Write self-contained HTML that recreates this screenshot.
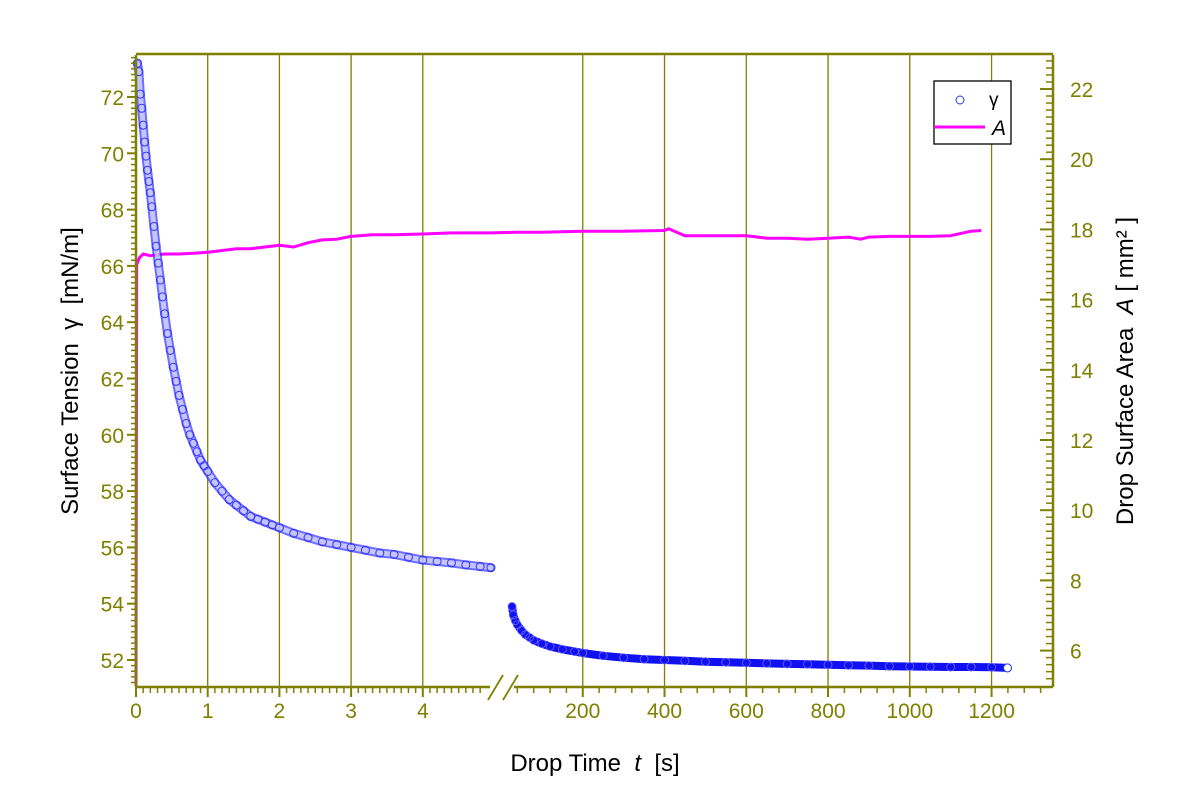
<!DOCTYPE html>
<html><head><meta charset="utf-8">
<style>
html,body{margin:0;padding:0;background:#fff;}
svg{display:block;font-family:"Liberation Sans",Arial,sans-serif;}
</style></head>
<body>
<svg id="chart" width="1200" height="800" viewBox="0 0 1200 800" xmlns="http://www.w3.org/2000/svg">
  <rect x="0" y="0" width="1200" height="800" fill="#fff"/>
  <g id="grid"></g>
  <g id="series"></g>
  <g id="axes"></g>
  <text transform="translate(78,371) rotate(-90)" text-anchor="middle" font-size="24" fill="#000" xml:space="preserve">Surface Tension  γ  [mN/m]</text>
  <text transform="translate(1133,371) rotate(-90)" text-anchor="middle" font-size="24" fill="#000" xml:space="preserve">Drop Surface Area  <tspan font-style="italic">A</tspan> [ mm² ]</text>
  <text x="595" y="771" text-anchor="middle" font-size="24" fill="#000" xml:space="preserve">Drop Time  <tspan font-style="italic">t</tspan>  [s]</text>
  <g>
    <rect x="934" y="81" width="77" height="63" fill="#fff" stroke="#000" stroke-width="1.3"/>
    <circle cx="960" cy="100" r="4" fill="none" stroke="#3030ff" stroke-width="1"/>
    <text x="989" y="106" font-size="19" fill="#000">γ</text>
    <line x1="934" y1="127" x2="985" y2="127" stroke="#ff00ff" stroke-width="3"/>
    <text x="992" y="135" font-size="21" font-style="italic" fill="#000">A</text>
  </g>
</svg>
<script>
// ---- data ----
const gammaT1 = [0.02,0.04,0.06,0.08,0.1,0.12,0.14,0.16,0.18,0.2,0.22,0.25,0.28,0.31,0.34,0.37,0.4,0.44,0.48,0.52,0.56,0.6,0.65,0.7,0.75,0.8,0.85,0.9,0.95,1.0,1.1,1.2,1.3,1.4,1.5,1.6,1.7,1.8,1.9,2.0,2.2,2.4,2.6,2.8,3.0,3.2,3.4,3.6,3.8,4.0,4.2,4.4,4.6,4.8,4.95];
const gammaV1 = [73.2,72.9,72.1,71.6,71.0,70.4,69.9,69.4,69.0,68.6,68.1,67.4,66.7,66.1,65.5,64.9,64.3,63.6,63.0,62.4,61.9,61.4,60.9,60.4,60.0,59.7,59.4,59.1,58.9,58.7,58.3,58.0,57.7,57.5,57.3,57.1,57.0,56.9,56.8,56.7,56.5,56.35,56.2,56.1,56.0,55.9,55.8,55.75,55.65,55.55,55.5,55.45,55.38,55.32,55.28];
const gammaT2 = [27,30,35,40,50,60,70,80,100,120,150,180,200,250,300,350,400,450,500,550,600,650,700,750,800,850,900,950,1000,1050,1100,1150,1200,1239];
const gammaV2 = [53.9,53.6,53.4,53.25,53.05,52.9,52.8,52.7,52.58,52.48,52.38,52.3,52.25,52.15,52.08,52.03,52.0,51.97,51.94,51.92,51.9,51.88,51.86,51.85,51.83,51.81,51.8,51.78,51.77,51.76,51.75,51.75,51.74,51.72];
const areaT = [0,0.01,0.05,0.1,0.2,0.3,0.4,0.6,0.8,1.0,1.2,1.4,1.6,1.8,2.0,2.2,2.4,2.6,2.8,3.0,3.3,3.6,4.0,4.4,4.8,4.95,40,100,200,300,400,410,450,500,550,600,650,700,750,800,850,880,900,950,1000,1050,1100,1150,1175];
const areaV = [5.0,17.0,17.2,17.3,17.25,17.28,17.3,17.3,17.32,17.35,17.4,17.45,17.45,17.5,17.55,17.5,17.62,17.7,17.72,17.8,17.85,17.85,17.87,17.9,17.9,17.9,17.92,17.92,17.95,17.95,17.97,18.02,17.82,17.82,17.82,17.82,17.75,17.75,17.72,17.75,17.78,17.72,17.78,17.8,17.8,17.8,17.82,17.95,17.97];
const yTicks = [52,54,56,58,60,62,64,66,68,70,72];
const y2Ticks = [6,8,10,12,14,16,18,20,22];
const x1Ticks = [0,1,2,3,4];
const x2Ticks = [200,400,600,800,1000,1200];

// ---- scales ----
const L=136,R=1053,T=55,B=687;
const BREAK_T=4.95;
function xs(t){ return t<=BREAK_T ? 136 + t*71.7 : 501 + t*0.4088; }
function ys(v){ return 97 + (72 - v)*28.15; }
function ys2(v){ return 89 + (22 - v)*35.1; }

const NS="http://www.w3.org/2000/svg";
const OL="#7f7f00";
function mk(tag, attrs, parent){
  const e=document.createElementNS(NS,tag);
  for(const k in attrs) e.setAttribute(k,attrs[k]);
  parent.appendChild(e); return e;
}
const grid=document.getElementById('grid'), series=document.getElementById('series'), axes=document.getElementById('axes');

x1Ticks.concat(x2Ticks).forEach(t=>{
  if(t===0) return;
  const x=xs(t);
  const g=mk('line',{x1:x,y1:T,x2:x,y2:B,stroke:OL,'stroke-width':1.3},grid);
  
  
});

let d='';
areaT.forEach((t,i)=>{ d+=(i?'L':'M')+xs(t).toFixed(1)+' '+ys2(areaV[i]).toFixed(1); });
const ap=mk('path',{d:d,fill:'none',stroke:'#ff00ff','stroke-width':3,'stroke-linejoin':'round'},series);



let d1='';
gammaT1.forEach((t,i)=>{ d1+=(i?'L':'M')+xs(t).toFixed(1)+' '+ys(gammaV1[i]).toFixed(1); });
const b1=mk('path',{d:d1,fill:'none',stroke:'#3030ff','stroke-width':9,'stroke-opacity':0.7,'stroke-linecap':'round'},series);


const b1c=mk('path',{d:d1,fill:'none',stroke:'#ffffff','stroke-width':5,'stroke-opacity':0.6,'stroke-linecap':'round'},series);


gammaT1.forEach((t,i)=>{
  const c=mk('circle',{cx:xs(t),cy:ys(gammaV1[i]),r:4,fill:'none',stroke:'#3030ff','stroke-width':1},series);
  
  
});
let d2='';
gammaT2.forEach((t,i)=>{ d2+=(i?'L':'M')+xs(t).toFixed(1)+' '+ys(gammaV2[i]).toFixed(1); });
const b2=mk('path',{d:d2,fill:'none',stroke:'#1010f0','stroke-width':8,'stroke-linecap':'round','stroke-linejoin':'round'},series);


gammaT2.forEach((t,i)=>{
  const c=mk('circle',{cx:xs(t),cy:ys(gammaV2[i]),r:4,fill:'none',stroke:'#6a6aff','stroke-width':0.8},series);
  
  
});
const last=gammaT2.length-1;
const lc=mk('circle',{cx:xs(gammaT2[last]),cy:ys(gammaV2[last]),r:4,fill:'#fff',stroke:'#3030ff','stroke-width':1},series);



function line(x1,y1,x2,y2,w,name){
  const l=mk('line',{x1,y1,x2,y2,stroke:OL,'stroke-width':w},axes);
  
  
  return l;
}
line(L,T-1,R,T-1,2.5,'top-axis-line');
line(L,T,L,B,2.5,'left-axis-line');
line(R,T,R,B,2.5,'right-axis-line');
line(L,B,490,B,2.5,'bottom-axis-line-1');
line(514,B,R,B,2.5,'bottom-axis-line-2');
line(488,700,503,675,1.8,'axis-break-mark');
line(503,700,518,675,1.8,'axis-break-mark');

function label(x,y,txt,anchor,name){
  const t=mk('text',{x,y,'text-anchor':anchor,'font-size':21,fill:OL},axes);
  t.textContent=txt;
  
  
}
for(let v=51.2; v<=73.5; v+=0.2){
  const y=ys(v); const major=Math.abs(v/2-Math.round(v/2))<0.01;
  if(y<T||y>B) continue;
  line(L-(major?9:5),y,L,y,major?2:1.5,'y-tick');
}
yTicks.forEach(v=>label(L-12,ys(v)+8,String(v),'end','y-tick-label'));
for(let v=5.2; v<=23; v+=0.2){
  const y=ys2(v); const major=Math.abs(v/2-Math.round(v/2))<0.01;
  if(y<T||y>B) continue;
  line(R-(major?13:7),y,R,y,major?2:1.5,'y2-tick');
}
y2Ticks.forEach(v=>label(R+17,ys2(v)+8,String(v),'start','y2-tick-label'));
for(let i=0;i<=48;i++){
  const t=i/10, x=xs(t), major=i%10===0;
  line(x,B,x,B+(major?10:6),major?2:1.5,'x-tick');
}
x1Ticks.forEach(t=>label(xs(t),B+31,String(t),'middle','x-tick-label'));
for(let t=40;t<=1340;t+=40){
  const x=xs(t), major=t%200===0;
  line(x,B,x,B+(major?10:6),major?2:1.5,'x-tick');
}
x2Ticks.forEach(t=>label(xs(t),B+31,String(t),'middle','x-tick-label'));
</script>
</body></html>
